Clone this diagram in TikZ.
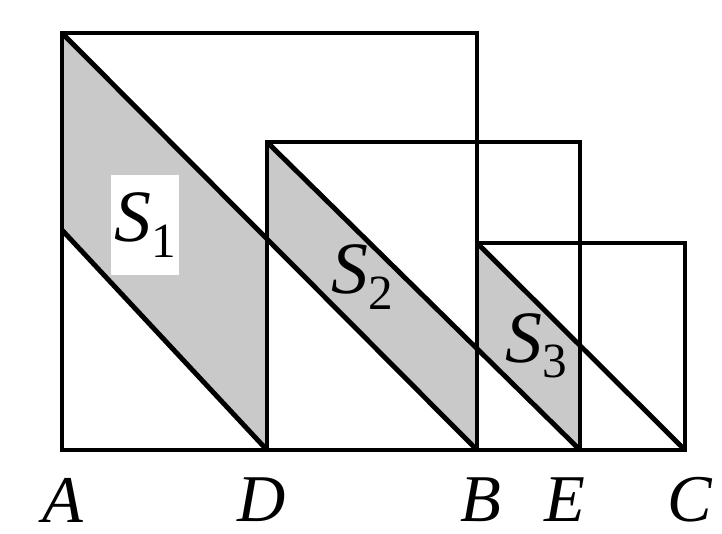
\documentclass[tikz,border=0pt]{standalone}
\usepackage{fontspec}
\setmainfont{Liberation Serif}
\definecolor{sombra}{HTML}{C9C9C9}
\newcommand{\area}[1]{\textit{S}\raisebox{-0.45ex}{\fontsize{14}{15}\selectfont #1}}

\begin{document}
\begin{tikzpicture}[
			trazo/.style={line width=1.4pt, line join=miter},
			region/.style={fill=sombra},
			punto/.style={font=\fontsize{19}{22}\selectfont\itshape, inner sep=0pt},
			etiqueta/.style={font=\fontsize{21}{24}\selectfont, inner sep=1pt}]
			\useasboundingbox (0,0) rectangle (7.22,5.33);
			\coordinate (A) at (0.62,0.83);
			\coordinate (D) at (2.67,0.83);
			\coordinate (B) at (4.77,0.83);
			\coordinate (E) at (5.80,0.83);
			\coordinate (C) at (6.85,0.83);
			\coordinate (G) at (0.62,5.00);
			\coordinate (F) at (4.77,5.00);
			\coordinate (H) at (2.67,3.91);
			\coordinate (M) at (5.80,3.91);
			\coordinate (K) at (4.77,2.90);
			\coordinate (L) at (6.85,2.90);
			\coordinate (P) at (0.62,3.03);
			\coordinate (X1) at (intersection of G--B and D--H);
			\coordinate (X2) at (intersection of H--E and B--F);
			\coordinate (X3) at (intersection of K--C and E--M);
			% zonas sombreadas
			\fill[region] (G) -- (X1) -- (D) -- (P) -- cycle;
			\fill[region] (H) -- (X2) -- (B) -- (X1) -- cycle;
			\fill[region] (K) -- (X3) -- (E) -- (X2) -- cycle;
			% cuadrados y diagonales
			\draw[trazo] (A) rectangle (F);
			\draw[trazo] (D) rectangle (M);
			\draw[trazo] (B) rectangle (L);
			\draw[trazo] (A) -- (C);
			\draw[trazo] (G) -- (B);
			\draw[trazo] (P) -- (D);
			\draw[trazo] (H) -- (E);
			\draw[trazo] (K) -- (C);
			\node[etiqueta, fill=white, minimum height=1cm] (s1) at (1.45,3.08) {\area{1}};
			\node[etiqueta] (s2) at (3.62,2.56) {\area{2}};
			\node[etiqueta] (s3) at (5.36,1.87) {\area{3}};
			\node[punto] (lA) at (0.63,0.33) {A};
			\node[punto] (lD) at (2.62,0.33) {D};
			\node[punto] (lB) at (4.81,0.33) {B};
			\node[punto] (lE) at (5.65,0.33) {E};
			\node[punto] (lC) at (6.90,0.33) {C};
		\end{tikzpicture}
\end{document}
